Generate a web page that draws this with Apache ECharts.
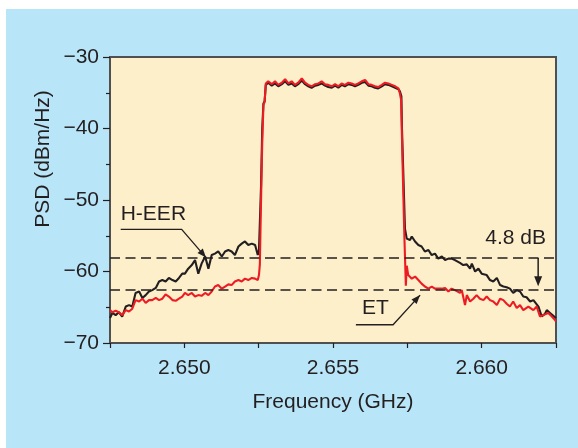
<!DOCTYPE html>
<html>
<head>
<meta charset="utf-8">
<script src="https://cdn.jsdelivr.net/npm/echarts@6/dist/echarts.min.js"></script>
<style>
  html, body { margin:0; padding:0; background:#ffffff; }
  #wrap { position:relative; width:578px; height:448px; background:#ffffff; overflow:hidden; }
  #bg { position:absolute; left:6px; top:9px; right:0; bottom:0; background:#b9e5f8; }
  #c { position:absolute; left:0; top:0; width:578px; height:448px; }
</style>
</head>
<body>
<div id="wrap"><div id="bg"></div><div id="c"></div></div>
<script>
// ---- Data (frequency in GHz, PSD in dBm/Hz) ----
const xTicksLabelled = [2.650, 2.655, 2.660];
const yTicks = [-70, -60, -50, -40, -30];

// H-EER (black)
const freqH = [
  2.64750, 2.64758, 2.64769, 2.64780, 2.64791, 2.64803, 2.64814, 2.64825, 2.64836, 2.64848,
  2.64859, 2.64870, 2.64881, 2.64892, 2.64904, 2.64915, 2.64926, 2.64937, 2.64948, 2.64960,
  2.64971, 2.64982, 2.64993, 2.65002, 2.65013, 2.65025, 2.65036, 2.65047, 2.65058, 2.65070,
  2.65081, 2.65092, 2.65103, 2.65114, 2.65126, 2.65137, 2.65148, 2.65159, 2.65170, 2.65182,
  2.65193, 2.65204, 2.65215, 2.65227, 2.65238, 2.65247,
  2.65251, 2.65258, 2.65262, 2.65266, 2.65270,
  2.65274, 2.65282, 2.65294, 2.65305, 2.65316, 2.65328, 2.65339, 2.65350, 2.65361, 2.65372,
  2.65383, 2.65395, 2.65406, 2.65417, 2.65428, 2.65440, 2.65451, 2.65462, 2.65473, 2.65484,
  2.65496, 2.65507, 2.65518, 2.65529, 2.65540, 2.65552, 2.65563, 2.65574, 2.65585, 2.65597,
  2.65608, 2.65619, 2.65630, 2.65641, 2.65652, 2.65664, 2.65675, 2.65686, 2.65698, 2.65709,
  2.65720, 2.65725,
  2.65730, 2.65732, 2.65737, 2.65742,
  2.65748, 2.65759, 2.65765, 2.65776, 2.65787, 2.65798, 2.65809, 2.65821, 2.65832, 2.65843,
  2.65854, 2.65866, 2.65877, 2.65888, 2.65899, 2.65910, 2.65916, 2.65927, 2.65938, 2.65950,
  2.65961, 2.65967, 2.65978, 2.65989, 2.66000, 2.66017, 2.66028, 2.66039, 2.66051, 2.66062,
  2.66073, 2.66084, 2.66095, 2.66106, 2.66118, 2.66129, 2.66140, 2.66151, 2.66163, 2.66174,
  2.66179, 2.66191, 2.66202, 2.66213, 2.66219, 2.66230, 2.66241, 2.66250
];
const psdH = [
  -66.5, -65.8, -66.1, -65.7, -66.3, -64.9, -64.7, -64.9, -63.0, -62.8,
  -63.7, -63.3, -62.8, -62.6, -62.3, -61.4, -61.2, -61.4, -60.9, -61.2,
  -61.4, -60.9, -60.3, -60.3, -59.6, -59.1, -58.4, -60.3, -58.9, -57.9,
  -59.6, -57.7, -57.5, -57.2, -57.9, -57.2, -57.0, -57.2, -57.7, -56.5,
  -56.1, -55.8, -56.3, -56.1, -56.3, -57.7,
  -57.0, -48.0, -40.0, -36.5, -36.2,
  -33.9, -33.6, -34.0, -33.7, -34.1, -33.8, -33.4, -33.9, -33.7, -34.1,
  -33.8, -33.3, -33.8, -34.1, -34.3, -34.0, -33.9, -33.7, -34.0, -34.2,
  -34.3, -34.0, -34.3, -33.9, -34.1, -33.8, -33.9, -34.1, -33.9, -33.6,
  -33.5, -34.0, -34.1, -34.3, -34.4, -34.1, -33.8, -33.9, -34.1, -34.3,
  -34.5, -34.8,
  -35.5, -40.0, -47.0, -54.0,
  -55.4, -55.6, -55.1, -55.8, -56.3, -56.5, -57.2, -57.0, -57.7, -57.5,
  -58.2, -57.9, -58.4, -58.2, -58.2, -58.4, -58.6, -58.8, -59.1, -59.0,
  -59.6, -58.9, -60.0, -59.6, -60.3, -60.5, -61.2, -61.4, -60.9, -61.9,
  -62.1, -62.2, -62.4, -63.0, -62.6, -62.8, -63.5, -63.6, -64.2, -64.0,
  -63.8, -64.9, -66.3, -65.9, -65.4, -65.8, -66.2, -66.5
];

// ET (red)
const freqE = [
  2.64750, 2.64758, 2.64769, 2.64780, 2.64791, 2.64803, 2.64814, 2.64825, 2.64836, 2.64848,
  2.64859, 2.64870, 2.64881, 2.64892, 2.64904, 2.64915, 2.64926, 2.64937, 2.64948, 2.64960,
  2.64971, 2.64982, 2.64993, 2.65002, 2.65013, 2.65025, 2.65036, 2.65047, 2.65058, 2.65070,
  2.65081, 2.65092, 2.65103, 2.65114, 2.65126, 2.65137, 2.65148, 2.65159, 2.65170, 2.65182,
  2.65193, 2.65204, 2.65215, 2.65227, 2.65238, 2.65247,
  2.65251, 2.65254, 2.65258, 2.65262, 2.65266, 2.65270,
  2.65274, 2.65282, 2.65294, 2.65305, 2.65316, 2.65328, 2.65339, 2.65350, 2.65361, 2.65372,
  2.65383, 2.65395, 2.65406, 2.65417, 2.65428, 2.65440, 2.65451, 2.65462, 2.65473, 2.65484,
  2.65496, 2.65507, 2.65518, 2.65529, 2.65540, 2.65552, 2.65563, 2.65574, 2.65585, 2.65597,
  2.65608, 2.65619, 2.65630, 2.65641, 2.65652, 2.65664, 2.65675, 2.65686, 2.65698, 2.65709,
  2.65720, 2.65725,
  2.65729, 2.65734, 2.65740, 2.65745, 2.65748,
  2.65753, 2.65765, 2.65776, 2.65787, 2.65798, 2.65809, 2.65821, 2.65832, 2.65843, 2.65854,
  2.65866, 2.65877, 2.65888, 2.65899, 2.65910, 2.65916, 2.65927, 2.65933, 2.65944, 2.65950,
  2.65961, 2.65972, 2.65983, 2.65994, 2.66006, 2.66017, 2.66028, 2.66039, 2.66051, 2.66062,
  2.66073, 2.66084, 2.66095, 2.66106, 2.66118, 2.66129, 2.66140, 2.66157, 2.66174, 2.66185,
  2.66196, 2.66207, 2.66224, 2.66236, 2.66247, 2.66250
];
const psdE = [
  -65.4, -65.7, -65.5, -65.7, -66.1, -65.4, -65.6, -65.2, -64.0, -64.2,
  -63.8, -64.4, -64.0, -64.0, -63.7, -64.0, -63.8, -63.2, -63.5, -64.0,
  -64.1, -63.8, -63.5, -63.0, -63.3, -63.0, -63.5, -63.3, -63.4, -63.0,
  -63.3, -62.8, -62.1, -61.9, -62.4, -62.1, -61.8, -61.9, -61.4, -61.2,
  -61.4, -61.0, -61.2, -60.9, -61.0, -61.2,
  -60.5, -59.0, -50.0, -42.0, -36.7, -36.3,
  -33.7, -33.4, -33.8, -33.4, -33.9, -33.6, -33.1, -33.7, -33.4, -33.9,
  -33.6, -33.0, -33.6, -33.9, -34.1, -33.8, -33.7, -33.4, -33.8, -33.9,
  -34.1, -33.8, -34.1, -33.7, -33.9, -33.6, -33.7, -33.9, -33.7, -33.4,
  -33.2, -33.8, -33.9, -34.1, -34.2, -33.9, -33.6, -33.7, -33.9, -34.1,
  -34.4, -35.1,
  -36.0, -45.0, -55.0, -62.0, -59.2,
  -60.5, -61.0, -60.7, -61.2, -61.7, -62.1, -62.4, -62.1, -62.4, -62.4,
  -62.4, -62.3, -62.8, -62.4, -62.6, -62.8, -63.0, -62.6, -64.7, -63.3,
  -64.2, -63.8, -63.3, -63.8, -64.0, -63.5, -64.0, -64.2, -64.7, -63.8,
  -64.0, -64.5, -64.9, -64.2, -65.1, -64.7, -65.4, -64.9, -65.4, -64.9,
  -66.3, -66.1, -65.8, -66.3, -66.8, -67.0
];

// reference levels (dashed) and annotation anchors
const refLevels = [-58.1, -62.6];
const gapLabel = '4.8 dB';

// ---- Chart ----
const FONT = '"Liberation Sans", Arial, Helvetica, sans-serif';
const INK = '#231f20';
const AX = '#505050';
const FS = 21;
const chart = echarts.init(document.getElementById('c'), null, { renderer: 'canvas' });

const zip = (a, b) => a.map((v, i) => [v, b[i]]);

chart.setOption({
  animation: false,
  backgroundColor: 'transparent',
  grid: {
    left: 110, right: 22, top: 57, bottom: 105,
    show: true, backgroundColor: '#fcefc9', borderColor: AX, borderWidth: 2
  },
  xAxis: {
    type: 'value', min: 2.6475, max: 2.6625, interval: 0.0025,
    name: 'Frequency (GHz)', nameLocation: 'middle', nameGap: 49,
    nameTextStyle: { fontFamily: FONT, fontSize: FS, color: INK },
    axisLine: { show: true, onZero: false, lineStyle: { color: AX, width: 2 } },
    axisTick: { show: true, length: 5, lineStyle: { color: INK, width: 1.2 } },
    axisLabel: {
      margin: 15, fontFamily: FONT, fontSize: FS, color: INK,
      formatter: v => {
        const k = Math.round(v * 10000);
        return (k % 50 === 0) ? (k / 10000).toFixed(3) : '';
      }
    },
    splitLine: { show: false }
  },
  yAxis: {
    type: 'value', min: -70, max: -30, interval: 10,
    axisLine: { show: true, onZero: false, lineStyle: { color: AX, width: 2 } },
    axisTick: { show: true, length: 7, lineStyle: { color: INK, width: 1.2 } },
    minorTick: { show: true, splitNumber: 2, length: 4, lineStyle: { color: INK, width: 1.2 } },
    axisLabel: {
      margin: 11, fontFamily: FONT, fontSize: FS, color: INK,
      formatter: v => (v < 0 ? '\u2212' : '') + Math.abs(v)
    },
    splitLine: { show: false }
  },
  series: [
    {
      name: 'H-EER', type: 'line', data: zip(freqH, psdH), symbol: 'none',
      lineStyle: { color: INK, width: 2.1 }, z: 3,
      markLine: {
        silent: true, symbol: ['none', 'none'], label: { show: false },
        lineStyle: { color: INK, width: 1.6, type: [10, 5.5] },
        data: refLevels.map(v => ({ yAxis: v }))
      }
    },
    {
      name: 'ET', type: 'line', data: zip(freqE, psdE), symbol: 'none',
      lineStyle: { color: '#ed1c24', width: 2.1 }, z: 4
    }
  ]
});

// ---- Annotations anchored in data coordinates ----
function P(x, y) { return chart.convertToPixel({ gridIndex: 0 }, [x, y]); }
function arrowHead(from, tip, len, half) {
  const dx = tip[0] - from[0], dy = tip[1] - from[1];
  const d = Math.hypot(dx, dy), ux = dx / d, uy = dy / d;
  const bx = tip[0] - ux * len, by = tip[1] - uy * len;
  return [tip, [bx - uy * half, by + ux * half], [bx + uy * half, by - ux * half]];
}
const hA = P(2.64786, -54.1), hB = P(2.64991, -54.1), hTip = P(2.65073, -58.05);
const eA = P(2.65577, -67.45), eB = P(2.65702, -67.45), eTip = P(2.65793, -63.3);
const dTop = P(2.66190, refLevels[0]), dTip = P(2.66190, -62.05);
const hText = P(2.64786, -52.0), eText = P(2.65643, -65.2), dText = P(2.66114, -55.35);

chart.setOption({
  graphic: [
    { type: 'text', x: 43, y: 159, rotation: Math.PI / 2,
      style: { text: 'PSD (dBm/Hz)', fontFamily: FONT, fontSize: FS, fill: INK, align: 'center', verticalAlign: 'middle' } },
    { type: 'polyline', shape: { points: [hA, hB, hTip] }, style: { stroke: INK, lineWidth: 1.3, fill: null }, z: 10 },
    { type: 'polygon', shape: { points: arrowHead(hB, hTip, 9, 3.5) }, style: { fill: INK }, z: 10 },
    { type: 'text', x: hText[0], y: hText[1], style: { text: 'H-EER', fontFamily: FONT, fontSize: FS, fill: INK, align: 'left', verticalAlign: 'middle' }, z: 10 },
    { type: 'polyline', shape: { points: [eA, eB, eTip] }, style: { stroke: INK, lineWidth: 1.3, fill: null }, z: 10 },
    { type: 'polygon', shape: { points: arrowHead(eB, eTip, 9, 3.5) }, style: { fill: INK }, z: 10 },
    { type: 'text', x: eText[0], y: eText[1], style: { text: 'ET', fontFamily: FONT, fontSize: FS, fill: INK, align: 'center', verticalAlign: 'middle' }, z: 10 },
    { type: 'line', shape: { x1: dTop[0], y1: dTop[1], x2: dTip[0], y2: dTip[1] - 6 }, style: { stroke: INK, lineWidth: 1.5 }, z: 10 },
    { type: 'polygon', shape: { points: arrowHead(dTop, dTip, 10, 4) }, style: { fill: INK }, z: 10 },
    { type: 'text', x: dText[0], y: dText[1], style: { text: gapLabel, fontFamily: FONT, fontSize: FS, fill: INK, align: 'center', verticalAlign: 'middle' }, z: 10 }
  ]
});
</script>
</body>
</html>
